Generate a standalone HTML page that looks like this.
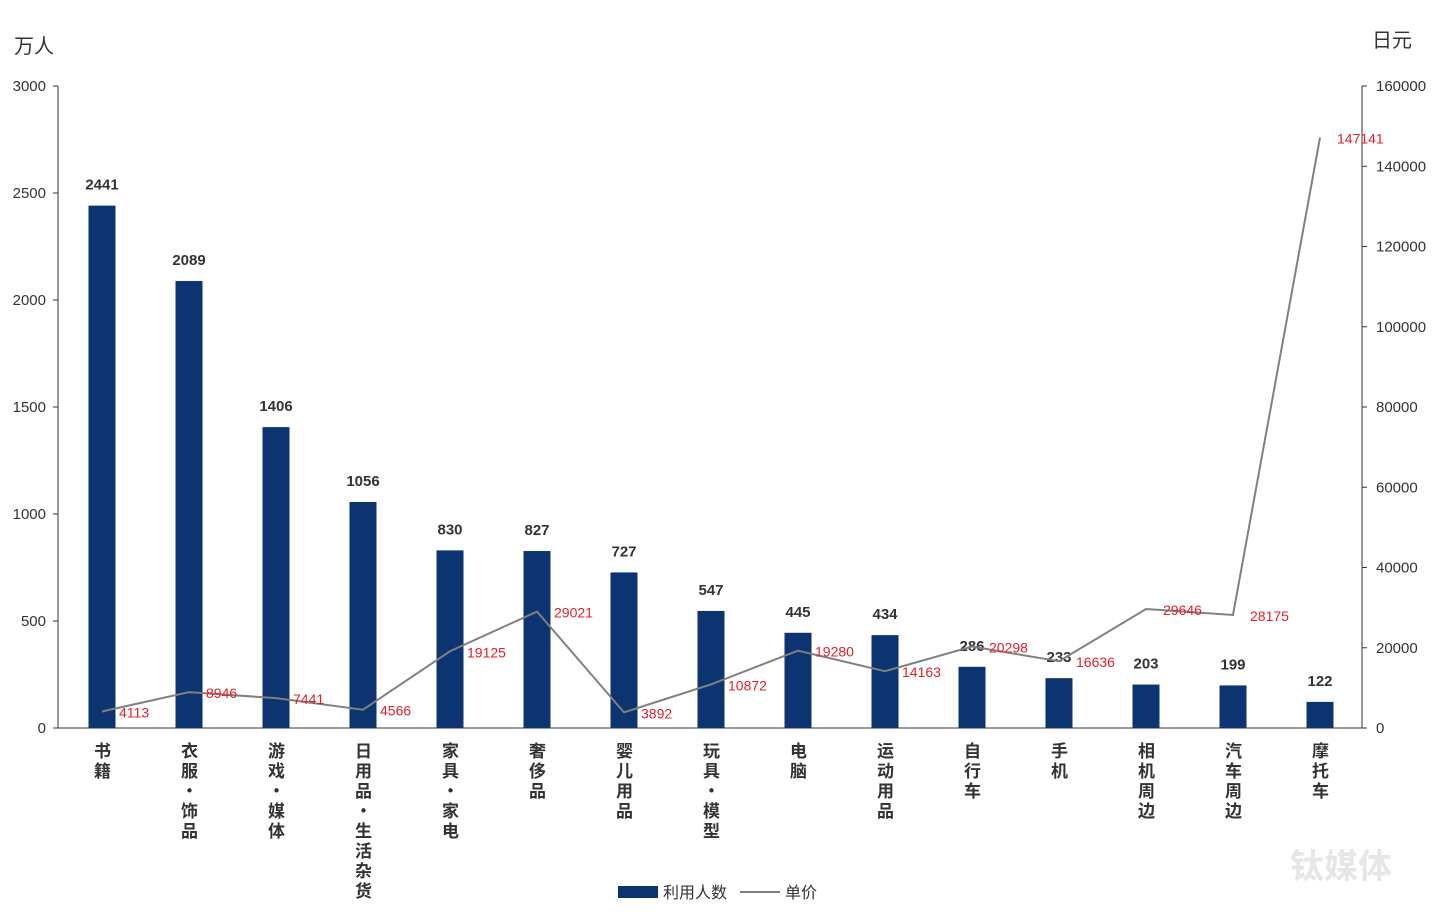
<!DOCTYPE html>
<html><head><meta charset="utf-8"><style>
body{margin:0;background:#fff;font-family:"Liberation Sans","Noto Sans CJK SC",sans-serif}
#wrap{position:relative;width:1440px;height:912px;overflow:hidden}
.cat{position:absolute;top:742px;writing-mode:vertical-rl;text-orientation:upright;font-size:17px;line-height:20px;font-weight:bold;color:#333;letter-spacing:3px;white-space:nowrap;font-family:"Noto Sans CJK SC",sans-serif;transform:translateX(-50%)}
</style></head><body>
<div id="wrap">
<svg id="svg" width="1440" height="912" style="position:absolute;left:0;top:0"></svg>
<div id="cats"></div>
</div>
<script>
const categories=["书籍","衣服・饰品","游戏・媒体","日用品・生活杂货","家具・家电","奢侈品","婴儿用品","玩具・模型","电脑","运动用品","自行车","手机","相机周边","汽车周边","摩托车"];
const users=[2441,2089,1406,1056,830,827,727,547,445,434,286,233,203,199,122];
const prices=[4113,8946,7441,4566,19125,29021,3892,10872,19280,14163,20298,16636,29646,28175,147141];
const leftTicks=[0,500,1000,1500,2000,2500,3000];
const rightTicks=[0,20000,40000,60000,80000,100000,120000,140000,160000];
const NS="http://www.w3.org/2000/svg",svg=document.getElementById('svg');
const y0=728,yTop=86;
const yL=v=>y0-(v/3000)*(y0-yTop);
const yR=v=>y0-(v/160000)*(y0-yTop);
const xC=i=>102+i*87;
function mk(t,a,txt){const e=document.createElementNS(NS,t);for(const k in a)e.setAttribute(k,a[k]);if(txt!==undefined)e.textContent=txt;svg.appendChild(e);return e;}
let e;
e=mk('line',{x1:58,y1:yTop,x2:58,y2:y0,stroke:'#333','stroke-width':1});

e=mk('line',{x1:1362,y1:yTop,x2:1362,y2:y0,stroke:'#333','stroke-width':1});

e=mk('line',{x1:58,y1:y0,x2:1362,y2:y0,stroke:'#333','stroke-width':1});

leftTicks.forEach(v=>{mk('line',{x1:53,y1:yL(v),x2:58,y2:yL(v),stroke:'#333'});
e=mk('text',{x:46,y:yL(v)+5,'text-anchor':'end','font-size':15,fill:'#333'},v);
});
rightTicks.forEach(v=>{mk('line',{x1:1362,y1:yR(v),x2:1367,y2:yR(v),stroke:'#333'});
e=mk('text',{x:1376,y:yR(v)+5,'font-size':15,fill:'#333'},v);
});
e=mk('text',{x:14,y:53,'font-size':20,fill:'#333','font-family':'Noto Sans CJK SC'},'万人');

e=mk('text',{x:1372,y:47,'font-size':20,fill:'#333','font-family':'Noto Sans CJK SC'},'日元');

users.forEach((v,i)=>{
e=mk('rect',{x:xC(i)-13.5,y:yL(v),width:27,height:y0-yL(v),fill:'#0b3470'});

e=mk('text',{x:xC(i),y:yL(v)-16,'text-anchor':'middle','font-size':15,'font-weight':'bold',fill:'#333'},v);

});
const pts=prices.map((v,i)=>xC(i)+','+yR(v)).join(' ');
e=mk('polyline',{points:pts,fill:'none',stroke:'#808080','stroke-width':2});

prices.forEach((v,i)=>{
e=mk('text',{x:xC(i)+17,y:yR(v)+6,'font-size':14,fill:'#e0202a'},v);

});
e=mk('rect',{x:618,y:886,width:40,height:12,fill:'#0b3470'});

e=mk('text',{x:663,y:898,'font-size':16,fill:'#333','font-family':'Noto Sans CJK SC'},'利用人数');

e=mk('line',{x1:740,y1:892,x2:780,y2:892,stroke:'#808080','stroke-width':2});

e=mk('text',{x:785,y:898,'font-size':16,fill:'#333','font-family':'Noto Sans CJK SC'},'单价');

e=mk('text',{x:1290,y:878,'font-size':34,'font-weight':'bold',fill:'#e6e6e6','font-family':'Noto Sans CJK SC'},'钛媒体');

const cats=document.getElementById('cats');
categories.forEach((c,i)=>{const d=document.createElement('div');d.className='cat';d.style.left=xC(i)+'px';d.textContent=c;


cats.appendChild(d);});
</script>
</body></html>
